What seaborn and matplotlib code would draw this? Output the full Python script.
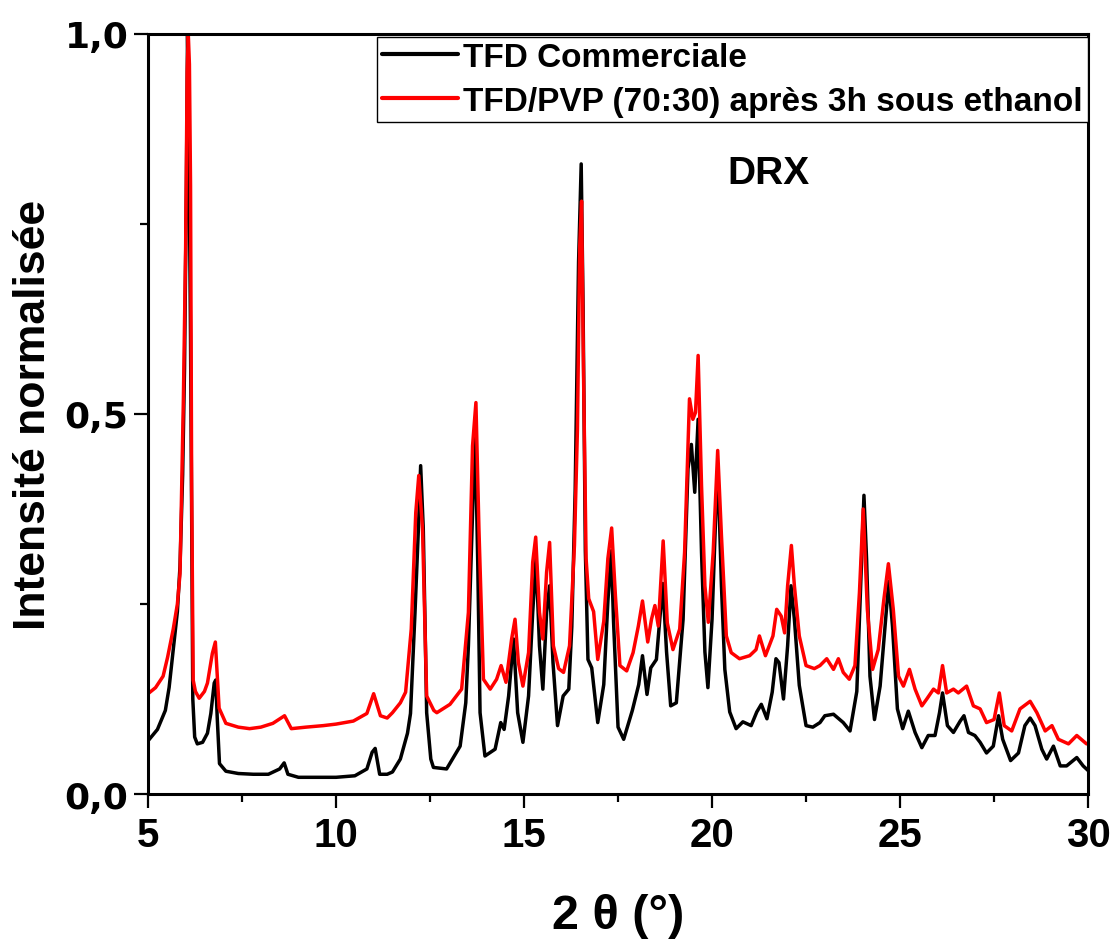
import numpy as np
import pandas as pd
import seaborn as sns
import matplotlib.pyplot as plt
from matplotlib.ticker import MultipleLocator, FuncFormatter

# TFD commerciale (black)
two_theta_com = [5.00, 5.25, 5.46, 5.56, 5.67, 5.78, 5.85, 5.92, 5.97, 6.02, 6.05, 6.08, 6.13, 6.19, 6.24,
                 6.31, 6.45, 6.58,
                 6.67, 6.76, 6.80, 6.84, 6.90, 7.07, 7.40, 7.80, 8.20, 8.50, 8.62, 8.72, 9.00, 9.50, 10.00,
                 10.50, 10.82, 10.96, 11.04, 11.16, 11.36, 11.50, 11.71, 11.90, 11.98, 12.10, 12.19, 12.25,
                 12.32, 12.41, 12.52, 12.59, 12.94, 13.30, 13.45, 13.52, 13.63, 13.70, 13.77, 13.83, 13.96,
                 14.23, 14.38, 14.47, 14.59, 14.72, 14.83, 14.97, 15.12, 15.23, 15.32, 15.41, 15.50, 15.60,
                 15.68, 15.77, 15.89, 16.04, 16.19, 16.27, 16.36, 16.45, 16.52, 16.57, 16.63, 16.70, 16.80,
                 16.96, 17.12, 17.23, 17.32, 17.38, 17.50, 17.65, 17.88, 18.05, 18.15, 18.27, 18.37, 18.52,
                 18.69, 18.79, 18.90, 19.05, 19.23, 19.36, 19.45, 19.54, 19.63, 19.72, 19.81, 19.89, 20.00,
                 20.11, 20.17, 20.25, 20.34, 20.47, 20.64, 20.82, 21.04, 21.19, 21.31, 21.46, 21.60, 21.70,
                 21.78, 21.90, 22.01, 22.10, 22.19, 22.32, 22.50, 22.68, 22.87, 23.00, 23.23, 23.49, 23.67,
                 23.85, 23.98, 24.04, 24.11, 24.20, 24.32, 24.47, 24.60, 24.70, 24.80, 24.93, 25.07, 25.22,
                 25.40, 25.58, 25.75, 25.93, 26.05, 26.13, 26.26, 26.42, 26.60, 26.70, 26.82, 26.99, 27.13,
                 27.30, 27.48, 27.62, 27.73, 27.94, 28.15, 28.32, 28.46, 28.59, 28.77, 28.90, 29.08, 29.26,
                 29.43, 29.70, 29.87, 30.00]
int_com = [0.070, 0.085, 0.110, 0.140, 0.190, 0.240, 0.300, 0.420, 0.560, 0.800, 1.000, 0.900, 0.600, 0.125,
           0.075, 0.066, 0.068,
           0.080, 0.106, 0.146, 0.150, 0.100, 0.040, 0.030, 0.027, 0.026, 0.026, 0.033, 0.041, 0.026, 0.022,
           0.022, 0.022, 0.024, 0.033, 0.055, 0.060, 0.026, 0.026, 0.029, 0.046, 0.080, 0.106, 0.239, 0.349,
           0.432, 0.349, 0.107, 0.046, 0.035, 0.033, 0.063, 0.120, 0.195, 0.370, 0.480, 0.300, 0.107, 0.050,
           0.059, 0.094, 0.085, 0.129, 0.204, 0.107, 0.068, 0.129, 0.239, 0.310, 0.195, 0.138, 0.239, 0.274,
           0.173, 0.090, 0.129, 0.138, 0.220, 0.400, 0.700, 0.829, 0.640, 0.320, 0.177, 0.166, 0.094, 0.144,
           0.254, 0.320, 0.227, 0.088, 0.072, 0.110, 0.144, 0.182, 0.131, 0.166, 0.177, 0.277, 0.187, 0.116,
           0.120, 0.230, 0.428, 0.460, 0.397, 0.493, 0.318, 0.187, 0.140, 0.230, 0.384, 0.406, 0.274, 0.164,
           0.108, 0.086, 0.095, 0.090, 0.108, 0.118, 0.099, 0.134, 0.178, 0.173, 0.125, 0.195, 0.274, 0.230,
           0.143, 0.090, 0.088, 0.094, 0.103, 0.105, 0.094, 0.083, 0.135, 0.309, 0.393, 0.309, 0.155, 0.098,
           0.142, 0.220, 0.280, 0.220, 0.112, 0.086, 0.109, 0.081, 0.061, 0.077, 0.077, 0.107, 0.133, 0.090,
           0.081, 0.096, 0.103, 0.081, 0.077, 0.068, 0.054, 0.063, 0.103, 0.072, 0.044, 0.054, 0.090, 0.100,
           0.090, 0.059, 0.046, 0.063, 0.037, 0.037, 0.048, 0.037, 0.031]

# TFD/PVP (70:30) apres 3h sous ethanol (red)
two_theta_pvp = [5.00, 5.20, 5.40, 5.52, 5.67, 5.78, 5.85, 5.94, 6.00, 6.04, 6.07, 6.10, 6.13, 6.16, 6.20,
                 6.26, 6.36,
                 6.50, 6.58, 6.71, 6.79, 6.89, 7.07, 7.40, 7.70, 8.00, 8.32, 8.63, 8.81, 9.20, 9.66, 10.00,
                 10.46, 10.82, 11.00, 11.18, 11.36, 11.50, 11.71, 11.85, 12.00, 12.12, 12.20, 12.30, 12.41,
                 12.60, 12.68, 13.03, 13.34, 13.52, 13.63, 13.72, 13.80, 13.92, 14.10, 14.27, 14.39, 14.52,
                 14.67, 14.76, 14.85, 14.97, 15.12, 15.23, 15.31, 15.41, 15.50, 15.60, 15.68, 15.78, 15.92,
                 16.05, 16.21, 16.34, 16.42, 16.48, 16.53, 16.58, 16.65, 16.72, 16.85, 16.96, 17.12, 17.23,
                 17.33, 17.43, 17.55, 17.73, 17.90, 18.04, 18.15, 18.29, 18.39, 18.48, 18.57, 18.70, 18.81,
                 18.96, 19.14, 19.27, 19.40, 19.49, 19.56, 19.63, 19.72, 19.81, 19.90, 20.03, 20.15, 20.25,
                 20.38, 20.51, 20.73, 21.00, 21.17, 21.26, 21.42, 21.62, 21.72, 21.84, 21.93, 22.01, 22.11,
                 22.19, 22.32, 22.50, 22.72, 22.87, 23.05, 23.23, 23.36, 23.49, 23.65, 23.80, 23.92, 24.02,
                 24.13, 24.27, 24.42, 24.57, 24.69, 24.82, 24.96, 25.09, 25.25, 25.40, 25.58, 25.71, 25.89,
                 26.02, 26.13, 26.24, 26.42, 26.55, 26.77, 26.95, 27.13, 27.30, 27.50, 27.64, 27.77, 27.97,
                 28.19, 28.46, 28.64, 28.86, 29.04, 29.21, 29.48, 29.70, 29.96]
int_pvp = [0.132, 0.140, 0.155, 0.180, 0.217, 0.250, 0.290, 0.520, 0.720, 0.950, 1.000, 0.960, 0.800, 0.400,
           0.150, 0.135, 0.126,
           0.135, 0.146, 0.185, 0.200, 0.113, 0.093, 0.088, 0.086, 0.088, 0.093, 0.103, 0.086, 0.088,
           0.090, 0.092, 0.096, 0.106, 0.132, 0.103, 0.100, 0.107, 0.120, 0.134, 0.217, 0.370, 0.419, 0.349,
           0.129, 0.110, 0.107, 0.118, 0.138, 0.239, 0.458, 0.515, 0.349, 0.151, 0.138, 0.151, 0.169, 0.147,
           0.204, 0.230, 0.173, 0.142, 0.186, 0.305, 0.338, 0.239, 0.204, 0.292, 0.331, 0.195, 0.165, 0.160,
           0.195, 0.327, 0.480, 0.720, 0.780, 0.560, 0.310, 0.257, 0.240, 0.177, 0.227, 0.310, 0.350, 0.261,
           0.169, 0.162, 0.186, 0.221, 0.254, 0.200, 0.230, 0.248, 0.221, 0.333, 0.225, 0.190, 0.217, 0.318,
           0.520, 0.493, 0.502, 0.577, 0.406, 0.274, 0.226, 0.318, 0.452, 0.340, 0.208, 0.186, 0.178, 0.182,
           0.190, 0.208, 0.182, 0.208, 0.243, 0.234, 0.212, 0.274, 0.327, 0.274, 0.208, 0.169, 0.165, 0.169,
           0.178, 0.164, 0.178, 0.160, 0.151, 0.169, 0.265, 0.375, 0.243, 0.164, 0.190, 0.256, 0.303, 0.243,
           0.155, 0.142, 0.164, 0.138, 0.116, 0.125, 0.138, 0.133, 0.169, 0.133, 0.138, 0.133, 0.142, 0.116,
           0.112, 0.094, 0.098, 0.133, 0.090, 0.083, 0.112, 0.122, 0.107, 0.083, 0.090, 0.072, 0.066, 0.077,
           0.066]

labels = ['TFD Commerciale', 'TFD/PVP (70:30) après 3h sous ethanol']

fam = ['Liberation Sans', 'DejaVu Sans']

sns.set_style('ticks')
plt.rcParams.update({
    'font.family': fam,
    'text.color': 'black',
    'axes.labelcolor': 'black',
    'axes.edgecolor': 'black',
    'xtick.color': 'black',
    'ytick.color': 'black',
})

fig = plt.figure(figsize=(11.14, 9.45), dpi=100)
ax = fig.add_axes([0.1329, 0.1587, 0.8438, 0.8043])

df_com = pd.DataFrame({'x': two_theta_com, 'y': int_com})
df_pvp = pd.DataFrame({'x': two_theta_pvp, 'y': int_pvp})
sns.lineplot(data=df_com, x='x', y='y', ax=ax, color='black', lw=2.5, label=labels[0])
sns.lineplot(data=df_pvp, x='x', y='y', ax=ax, color='#ff0000', lw=2.5, label=labels[1])

ax.set_xlim(5, 30)
ax.set_ylim(0, 1.0)
ax.xaxis.set_major_locator(MultipleLocator(5))
ax.xaxis.set_minor_locator(MultipleLocator(2.5))
ax.yaxis.set_major_locator(MultipleLocator(0.5))
ax.yaxis.set_minor_locator(MultipleLocator(0.25))
ax.yaxis.set_major_formatter(FuncFormatter(lambda v, p: f'{v:.1f}'.replace('.', ',')))

for s in ax.spines.values():
    s.set_linewidth(2.2)
    s.set_visible(True)
    s.set_color('black')
ax.tick_params(which='major', direction='out', length=10, width=1.6, top=False, right=False)
ax.tick_params(which='minor', direction='out', length=5.5, width=1.6, top=False, right=False)
ax.tick_params(axis='x', which='major', pad=6)
ax.tick_params(axis='y', which='major', pad=4)
for t in ax.get_xticklabels():
    t.set_fontsize(29)
    t.set_fontweight('bold')
for t in ax.get_yticklabels():
    t.set_fontfamily('DejaVu Sans')
    t.set_fontsize(26)
    t.set_fontweight('bold')

ax.set_xlabel('2 θ (°)', fontsize=35, fontweight='bold')
ax.set_ylabel('Intensité normalisée', fontsize=32, fontweight='bold')
ax.xaxis.set_label_coords(0.5, -0.130)
ax.yaxis.set_label_coords(-0.100, 0.5)
ax.xaxis.label.set_va('top')

ax.text(20.4, 0.804, 'DRX', fontsize=28, fontweight='bold', ha='left', va='baseline')

leg = ax.legend(loc='upper right', bbox_to_anchor=(1.0, 0.996), borderaxespad=0, frameon=True,
                fancybox=False, framealpha=1, edgecolor='black', handlelength=2.3, handletextpad=0.15,
                borderpad=0.15, labelspacing=0.38, prop={'family': fam, 'weight': 'bold', 'size': 24})
leg.get_frame().set_linewidth(1.0)
for line in leg.get_lines():
    line.set_linewidth(3)

fig.savefig('out.png', dpi=100)
